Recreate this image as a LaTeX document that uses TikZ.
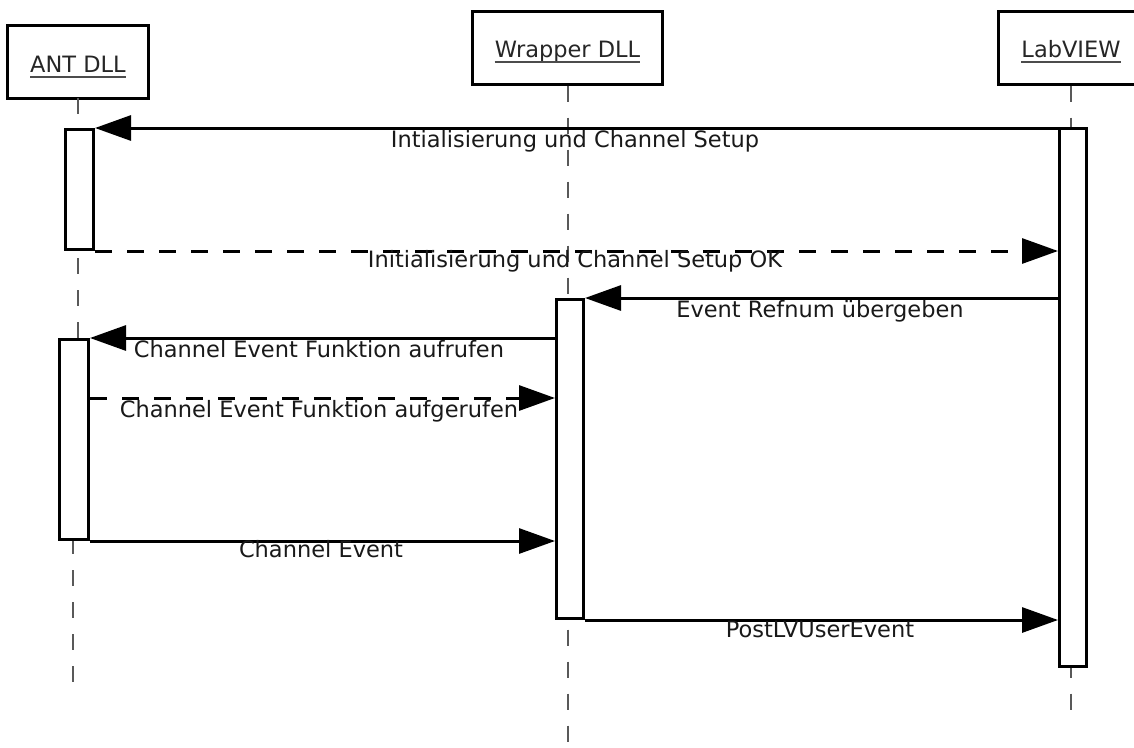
\documentclass[tikz,border=0pt]{standalone}
\usepackage{fontspec}
\setmainfont{DejaVu Sans}
\usetikzlibrary{arrows.meta}
\begin{document}
\begin{tikzpicture}[x=1pt,y=-1pt,
  font=\fontsize{22.5}{27}\selectfont,
  headbox/.style={draw, line width=3pt, fill=white, minimum width=#1, minimum height=73pt, inner sep=0pt},
  actbox/.style={draw, line width=3pt, fill=white, inner sep=0pt, anchor=north west},
  life/.style={draw=gray!70!black, line width=2pt, dash pattern=on 16pt off 16pt},
  msg/.style={line width=3pt, -{Triangle[length=36pt,width=25pt]}},
  reply/.style={msg, dash pattern=on 16.5pt off 15.5pt},
  lbl/.style={anchor=base, inner sep=0pt, text=black!90},
  ttl/.style={anchor=base, inner sep=0pt, text=black!85},
  uline/.style={line width=2pt, draw=black!70}
]
\useasboundingbox (0,0) rectangle (1134,747);
\clip (0,0) rectangle (1134,747);

% header boxes
\node[headbox=141pt] (antbox) at (77.5,61.5) {};
\node[headbox=190pt] (wrapbox) at (567.5,47.5) {};
\node[headbox=146pt] (lvbox) at (1071,47.5) {};
\node[ttl] (antt) at (78,72) {ANT DLL};
\node[ttl] (wrapt) at (567.5,57) {Wrapper DLL};
\node[ttl] (lvt) at (1071,57) {LabVIEW};
\draw[uline] ([yshift=-5pt]antt.base west) -- ([yshift=-5pt]antt.base east);
\draw[uline] ([yshift=-5pt]wrapt.base west) -- ([yshift=-5pt]wrapt.base east);
\draw[uline] ([yshift=-5pt]lvt.base west) -- ([yshift=-5pt]lvt.base east);

% lifeline ends
\coordinate (antmid) at (78,338);
\coordinate (antlow) at (73,538);
\coordinate (antend) at (73,683);
\coordinate (wrapend) at (567.5,760);
\coordinate (lvend) at (1071,712);

\draw[life] (78,98) -- (antmid);
\draw[life] (antlow) -- (antend);
\draw[life] (wrapbox.south) -- (wrapend);
\draw[life] (lvbox.south) -- (lvend);

% activation boxes
\node[actbox, minimum width=28pt, minimum height=120pt] (a1) at (64,128) {};
\node[actbox, minimum width=29pt, minimum height=200pt] (a2) at (58,338) {};
\node[actbox, minimum width=27pt, minimum height=319pt] (w) at (555,298) {};
\node[actbox, minimum width=27pt, minimum height=538pt] (lv) at (1058,127) {};

% messages
\draw[msg] (lv.west |- a1.north) -- (a1.north east);
\node[lbl] at (575,147) {Intialisierung und Channel Setup};

\draw[reply] (a1.south east) -- (lv.west |- a1.south east);
\node[lbl] at (575,267) {Initialisierung und Channel Setup OK};

\draw[msg] (lv.west |- w.north) -- (w.north east);
\node[lbl] at (820,317) {Event Refnum übergeben};

\draw[msg] (w.west |- a2.north) -- (a2.north east);
\node[lbl] at (319,357) {Channel Event Funktion aufrufen};

\coordinate (r5) at ([yshift=-60pt]a2.north east);
\draw[reply] (r5) -- (w.west |- r5);
\node[lbl] at (319,417) {Channel Event Funktion aufgerufen};

\draw[msg] (a2.south east) -- (w.west |- a2.south east);
\node[lbl] at (321,557) {Channel Event};

\draw[msg] (w.south east) -- (lv.west |- w.south east);
\node[lbl] at (820,637) {PostLVUserEvent};
\end{tikzpicture}
\end{document}
